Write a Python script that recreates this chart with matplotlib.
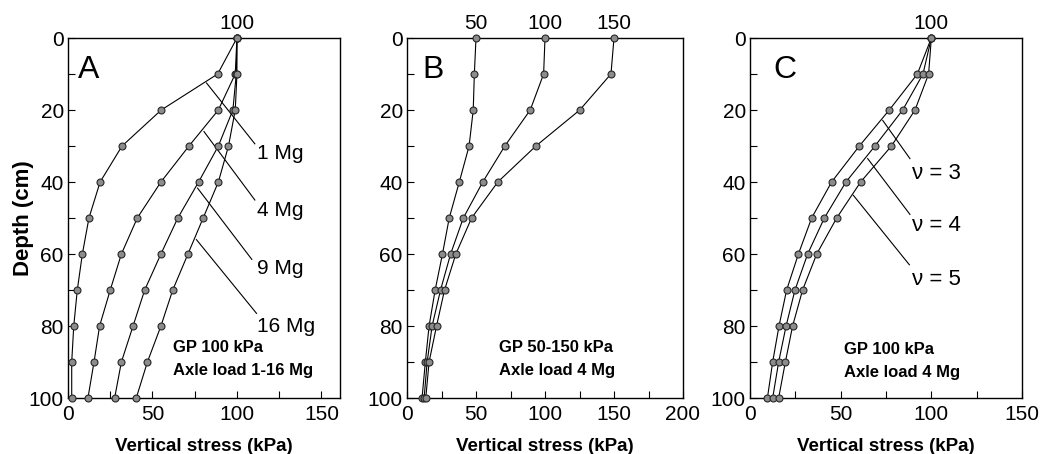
import matplotlib.pyplot as plt
from matplotlib import font_manager
from matplotlib.ticker import MultipleLocator

plt.switch_backend("Agg")

# ---- data ----
DEPTH = [0, 10, 20, 30, 40, 50, 60, 70, 80, 90, 100]

# panel A: GP 100 kPa, axle load 1-16 Mg
A_LABELS = ["1 Mg", "4 Mg", "9 Mg", "16 Mg"]
A_1MG = [100, 88.6, 55.2, 32, 19, 12.4, 8.5, 5.5, 3.4, 2.2, 2.2]
A_4MG = [100, 99, 89, 71.6, 55, 41, 31.6, 25, 18.7, 15.4, 11.8]
A_9MG = [100, 99.6, 97.6, 89, 77.3, 65, 55, 45.4, 38.5, 31.6, 27.6]
A_16MG = [100, 100, 99, 95, 89, 80, 71, 62, 55, 47, 40.4]

# panel B: GP 50-150 kPa, axle load 4 Mg
B_LABELS = ["50", "100", "150"]
B_50 = [50, 48.8, 48, 45, 37.9, 30.6, 25.7, 20.4, 16, 13.3, 10.9]
B_100 = [100, 99, 89.3, 70.9, 54.9, 40.8, 31.6, 24.3, 18.2, 14.6, 12.4]
B_150 = [150, 147.8, 125.2, 93.4, 65.8, 46.8, 35.4, 27.2, 21.4, 16, 13.6]

# panel C: GP 100 kPa, axle load 4 Mg, concentration factor
C_LABELS = ["\u03bd = 3", "\u03bd = 4", "\u03bd = 5"]
C_V3 = [100, 92.3, 76.8, 60.3, 45, 34, 26.7, 20.2, 16, 12.5, 9.6]
C_V4 = [100, 95.4, 84.2, 68.9, 52.9, 41, 31.8, 24.8, 19.9, 15.8, 12.5]
C_V5 = [100, 98.5, 91, 78, 61, 47.8, 36.8, 29, 23.5, 19.5, 15.8]

# leader lines (x0, d0, x1, d1) and label anchors (x, depth)
A_LEADERS = [(82, 12.5, 110.6, 29.4), (80.5, 26, 110.6, 45),
             (76.7, 41.7, 108.8, 61.5), (76, 56, 111.6, 76.5)]
A_LABEL_POS = [(112, 32), (112, 48), (112, 64), (112, 80)]
C_LEADERS = [(73.2, 22.9, 88.2, 33.5), (64.9, 33.5, 88.2, 49),
             (57, 43.7, 87.9, 63)]
C_LABEL_POS = [(89.5, 37.5), (89.5, 52), (89.5, 67)]

# ---- fonts ----
available = {f.name for f in font_manager.fontManager.ttflist}
NARROW = "Liberation Sans Narrow" if "Liberation Sans Narrow" in available else "Liberation Sans"
REG = "Liberation Sans"
plt.rcParams["font.family"] = [REG, "DejaVu Sans"]

LINE = dict(color="black", lw=0.8, marker="o", ms=5.0, mfc="#8c8c8c",
            mec="#262626", mew=0.8)


def style_axes(ax, xmax, xmajor):
    ax.set_xlim(0, xmax)
    ax.set_ylim(100, 0)
    ax.xaxis.set_major_locator(MultipleLocator(xmajor))
    ax.xaxis.set_minor_locator(MultipleLocator(xmajor / 2))
    ax.yaxis.set_major_locator(MultipleLocator(20))
    ax.yaxis.set_minor_locator(MultipleLocator(10))
    ax.tick_params(which="both", direction="in", top=False, right=False)
    ax.tick_params(which="major", length=5, width=0.8, labelsize=15)
    ax.tick_params(axis="x", which="major", pad=5)
    ax.tick_params(axis="y", which="major", pad=3)
    ax.tick_params(which="minor", length=5, width=0.8)
    for lab in ax.get_xticklabels() + ax.get_yticklabels():
        lab.set_fontfamily(NARROW)
    for sp in ax.spines.values():
        sp.set_linewidth(1.0)
    ax.set_xlabel("Vertical stress (kPa)", fontsize=13.5, fontweight="bold", labelpad=10)


def top_label(ax, x, text):
    ax.text(x, -1.5, text, ha="center", va="bottom", fontsize=15,
            family=NARROW, clip_on=False)


def box_text(ax, x, d, lines):
    for i, t in enumerate(lines):
        ax.text(x, d + i * 6.5, t, fontsize=12, fontweight="bold",
                ha="left", va="center")


fig = plt.figure(figsize=(10.4, 4.54), dpi=100)
axA = fig.add_axes([68 / 1040, 56 / 454, 272 / 1040, 360 / 454])
axB = fig.add_axes([407 / 1040, 56 / 454, 276 / 1040, 360 / 454])
axC = fig.add_axes([750 / 1040, 56 / 454, 272 / 1040, 360 / 454])

# panel A
for series in (A_1MG, A_4MG, A_9MG, A_16MG):
    axA.plot(series, DEPTH, clip_on=False, zorder=3, **LINE)
for (x0, d0, x1, d1), (tx, td), lab in zip(A_LEADERS, A_LABEL_POS, A_LABELS):
    axA.plot([x0, x1], [d0, d1], color="black", lw=0.8)
    axA.text(tx, td, lab, fontsize=15, ha="left", va="center")
style_axes(axA, 161, 50)
axA.set_ylabel("Depth (cm)", fontsize=16, fontweight="bold")
axA.yaxis.set_label_coords(-0.125, 0.5)
axA.text(6, 9, "A", fontsize=23, ha="left", va="center")
top_label(axA, A_1MG[0], "100")
box_text(axA, 62, 86, ["GP 100 kPa", "Axle load 1-16 Mg"])

# panel B
for series in (B_50, B_100, B_150):
    axB.plot(series, DEPTH, clip_on=False, zorder=3, **LINE)
for series, lab in zip((B_50, B_100, B_150), B_LABELS):
    top_label(axB, series[0], lab)
style_axes(axB, 200, 50)
axB.text(11, 9, "B", fontsize=23, ha="left", va="center")
box_text(axB, 67, 86, ["GP 50-150 kPa", "Axle load 4 Mg"])

# panel C
for series in (C_V3, C_V4, C_V5):
    axC.plot(series, DEPTH, clip_on=False, zorder=3, **LINE)
for (x0, d0, x1, d1), (tx, td), lab in zip(C_LEADERS, C_LABEL_POS, C_LABELS):
    axC.plot([x0, x1], [d0, d1], color="black", lw=0.8)
    axC.text(tx, td, lab, fontsize=16, ha="left", va="center")
style_axes(axC, 150, 50)
axC.text(13, 9, "C", fontsize=23, ha="left", va="center")
top_label(axC, C_V3[0], "100")
box_text(axC, 52, 86.5, ["GP 100 kPa", "Axle load 4 Mg"])

fig.savefig("out.png", dpi=100)
plt.close(fig)
